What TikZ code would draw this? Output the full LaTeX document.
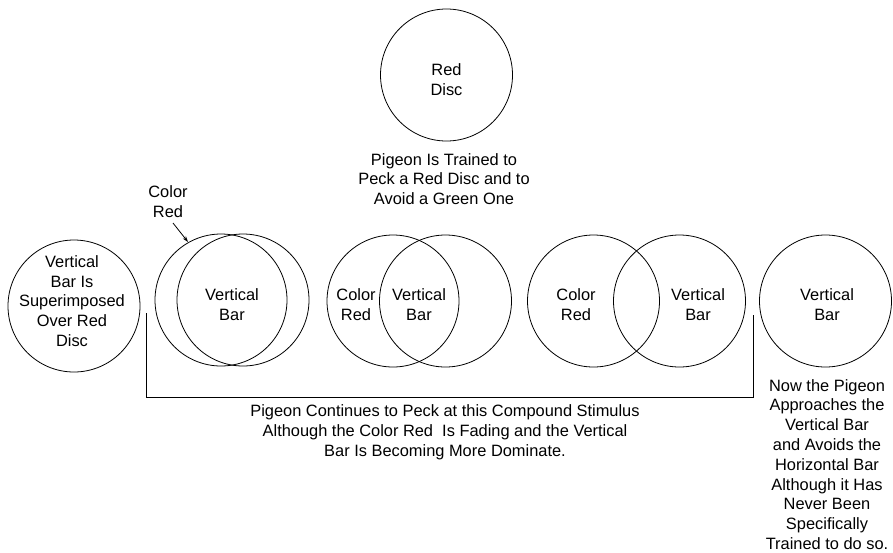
\documentclass[tikz,border=0pt]{standalone}
\usepackage{fontspec}
\setmainfont{Liberation Sans}
\usetikzlibrary{arrows.meta}
\begin{document}
\begin{tikzpicture}[x=1pt,y=-1pt,
  disc/.style={draw,circle,minimum size=132pt,inner sep=0pt,line width=0.8pt},
  lbl/.style={align=center,inner sep=0pt,font=\fontsize{16.4}{19.8}\selectfont},
  conn/.style={line width=0.8pt}]
\useasboundingbox (0,0) rectangle (893,552);
% top
\node[disc] (reddisc) at (446.5,75) {};
\node[lbl] (reddisctxt) at (446.5,80) {Red\\Disc};
\node[lbl] (train) at (444,179) {Pigeon Is Trained to\\Peck a Red Disc and to\\Avoid a Green One};
% left circle
\node[disc] (sup) at (74,306) {};
\node[lbl] (suptxt) at (72,301) {Vertical\\Bar Is\\Superimposed\\Over Red\\Disc};
% group 2
\node[disc] (c2a) at (221,300) {};
\node[disc] (c2b) at (243,300) {};
\node[lbl] (c2txt) at (232,305) {Vertical\\Bar};
\node[lbl] (colred) at (168,202) {Color\\Red};
\coordinate (arrstart) at (173,223);
\coordinate (arrend) at (188,242);
\draw[conn,-{Stealth[length=6pt,width=4pt]}] (arrstart) -- (arrend);
% group 3
\node[disc] (c3a) at (393,301) {};
\node[disc] (c3b) at (445.5,301) {};
\node[lbl] (c3red) at (356,305) {Color\\Red};
\node[lbl] (c3bar) at (419,305) {Vertical\\Bar};
% group 4
\node[disc] (c4a) at (593.5,301) {};
\node[disc] (c4b) at (679.5,301) {};
\node[lbl] (c4red) at (576,305) {Color\\Red};
\node[lbl] (c4bar) at (698,305) {Vertical\\Bar};
% group 5
\node[disc] (c5) at (825.5,301) {};
\node[lbl] (c5txt) at (827,305) {Vertical\\Bar};
\node[lbl,anchor=north] (now) at (827,379) {Now the Pigeon\\Approaches the\\Vertical Bar\\and Avoids the\\Horizontal Bar\\Although it Has\\Never Been\\Specifically\\Trained to do so.};
% bracket
\coordinate (bl) at (146,313);
\coordinate (blc) at (146,397);
\coordinate (brc) at (753,397);
\coordinate (br) at (753,315);
\draw[conn] (bl) -- (blc) -- (brc) -- (br);
\node[lbl] (cont) at (445,432) {Pigeon Continues to Peck at this Compound Stimulus\\Although the Color Red\ \ Is Fading and the Vertical\\Bar Is Becoming More Dominate.};
\end{tikzpicture}
\end{document}
